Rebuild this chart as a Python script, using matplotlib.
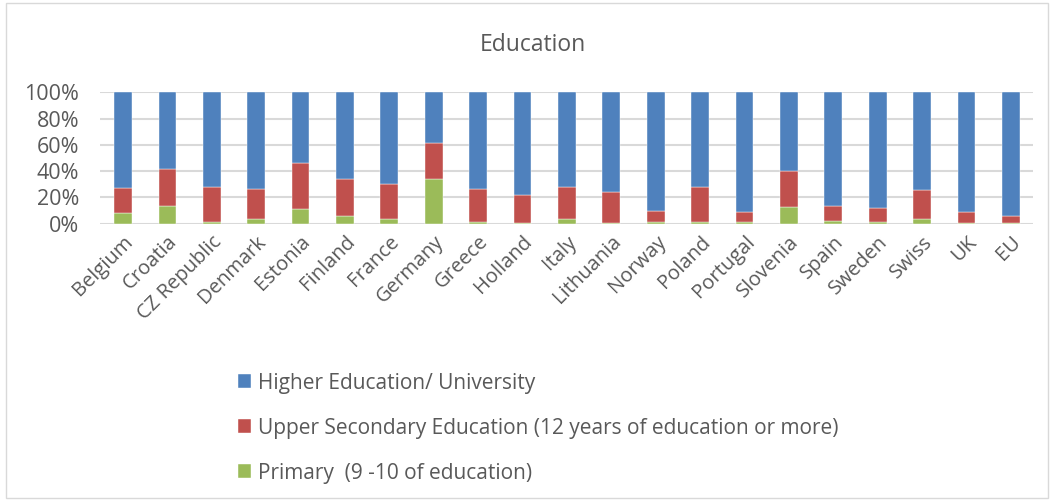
import numpy as np
import matplotlib.pyplot as plt
from matplotlib.patches import Rectangle

FONT = "Open Sans"
GREY = "#595959"

countries = ["Belgium", "Croatia", "CZ Republic", "Denmark", "Estonia", "Finland",
             "France", "Germany", "Greece", "Holland", "Italy", "Lithuania", "Norway",
             "Poland", "Portugal", "Slovenia", "Spain", "Sweden", "Swiss", "UK", "EU"]

# percent shares
primary = [7.7, 13.5, 0.8, 3.3, 10.7, 5.6, 3.8, 34.2, 1.3, 0.5, 3.8, 0.5, 0.8,
           0.8, 0.8, 12.5, 1.8, 1.3, 3.3, 0.5, 0.3]
upper_secondary = [19.6, 28.3, 26.8, 22.7, 35.2, 28.3, 26.6, 27.0, 24.7, 20.9, 23.8,
                   23.2, 8.6, 26.8, 8.1, 27.3, 11.2, 10.4, 22.0, 8.4, 5.3]
higher = [100 - p - u for p, u in zip(primary, upper_secondary)]

colors = {"higher": "#4f81bd", "upper": "#c0504d", "primary": "#9bbb59"}

fig = plt.figure(figsize=(10.52, 5.0), dpi=100)
ax = fig.add_axes([0.095, 0.553, 0.887, 0.262])

x = np.arange(len(countries))
w = 0.4
p = np.array(primary) / 100
u = np.array(upper_secondary) / 100
h = np.array(higher) / 100

b1 = ax.bar(x, p, w, color=colors["primary"], edgecolor="white", linewidth=0.3, zorder=3)
b2 = ax.bar(x, u, w, bottom=p, color=colors["upper"], edgecolor="white", linewidth=0.3, zorder=3)
b3 = ax.bar(x, h, w, bottom=p + u, color=colors["higher"], edgecolor="white", linewidth=0.3, zorder=3)

ax.set_xlim(-0.52, 20.5)
ax.set_ylim(0, 1)
ax.set_yticks(np.arange(0, 1.01, 0.2))
ax.set_yticklabels([f"{int(round(v*100))}%" for v in np.arange(0, 1.01, 0.2)],
                   fontsize=15.5, color=GREY, family=FONT)
ax.set_xticks(x)
ax.set_xticklabels(countries, rotation=45, ha="right", rotation_mode="anchor",
                   fontsize=14.5, color=GREY, family=FONT)
ax.tick_params(axis="y", length=0, pad=15)
ax.tick_params(axis="x", length=0, pad=6)
ax.grid(axis="y", color="#d9d9d9", linewidth=1.5, zorder=0)
for s in ax.spines.values():
    s.set_visible(False)

fig.text(0.507, 0.91, "Education", ha="center", va="center", fontsize=16.5,
         color=GREY, family=FONT)

fig.legend([b3, b2, b1],
           ["Higher Education/ University",
            "Upper Secondary Education (12 years of education or more)",
            "Primary  (9 -10 of education)"],
           loc="upper left", bbox_to_anchor=(0.208, 0.292), frameon=False,
           prop={"family": FONT, "size": 15}, labelcolor=GREY,
           handlelength=0.65, handleheight=0.65, handletextpad=0.35, labelspacing=1.15)

fig.patches.append(Rectangle((0.006, 0.004), 0.99, 0.99, transform=fig.transFigure,
                             fill=False, edgecolor="#d9d9d9", linewidth=1))

fig.savefig("out.png", dpi=100)
